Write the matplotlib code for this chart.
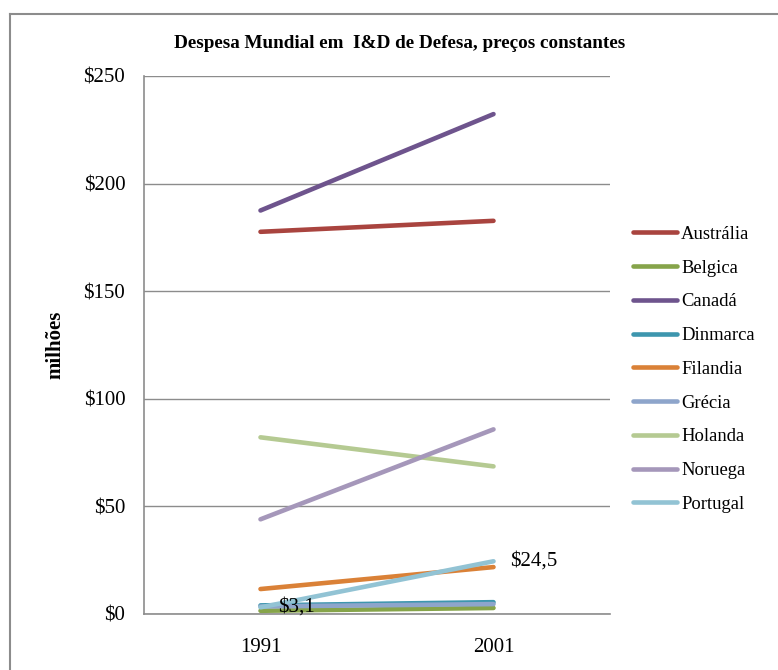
import matplotlib
matplotlib.use("Agg")
import matplotlib.pyplot as plt
from matplotlib.lines import Line2D

plt.rcParams['font.family'] = ['Liberation Serif', 'DejaVu Serif']

# spending in millions, constant prices
years = ['1991', '2001']
paises = ['Austrália', 'Belgica', 'Canadá', 'Dinmarca', 'Filandia',
          'Grécia', 'Holanda', 'Noruega', 'Portugal']
australia = [177.6, 182.7]
belgica = [1.5, 2.8]
canada = [187.5, 232.3]
dinmarca = [4.0, 5.5]
filandia = [11.6, 21.8]
grecia = [3.5, 4.6]
holanda = [82.1, 68.6]
noruega = [44.0, 85.8]
portugal = [3.1, 24.5]
cores = ['#A9443F', '#86A44A', '#6E548D', '#3D96AE', '#DA8137',
         '#8EA5CB', '#B5CA92', '#A597BA', '#92C3D4']

series = [australia, belgica, canada, dinmarca, filandia,
          grecia, holanda, noruega, portugal]

fig = plt.figure(figsize=(7.78, 6.70), dpi=100)
ax = fig.add_axes([144/778, 1 - 614/670, (610 - 144)/778, (614 - 76)/670])

x = list(range(len(years)))
for nome, vals, cor in zip(paises, series, cores):
    ax.plot(x, vals, color=cor, lw=3.3, solid_capstyle='round', label=nome)

# data labels for Portugal
ax.annotate('$' + f'{portugal[0]:.1f}'.replace('.', ','), (x[0], portugal[0]),
            xytext=(13, 0), textcoords='offset points', va='center', ha='left', fontsize=15)
ax.annotate('$' + f'{portugal[1]:.1f}'.replace('.', ','), (x[1], portugal[1]),
            xytext=(12, 0), textcoords='offset points', va='center', ha='left', fontsize=15)

ax.set_xlim(-0.5, 1.5)
ax.set_ylim(0, 250)
ax.set_yticks(range(0, 251, 50))
ax.set_yticklabels(['$' + str(v) for v in range(0, 251, 50)], fontsize=15)
ax.set_xticks(x)
ax.set_xticklabels(years, fontsize=15)
ax.tick_params(axis='both', length=0)
ax.tick_params(axis='y', pad=13.5)
ax.tick_params(axis='x', pad=17)
ax.grid(axis='y', color='#8c8c8c', lw=1)
ax.set_axisbelow(True)
for s in ['top', 'right']:
    ax.spines[s].set_visible(False)
for s in ['left', 'bottom']:
    ax.spines[s].set_color('#8c8c8c')
    ax.spines[s].set_linewidth(1.2)

ax.set_ylabel('milhões', fontsize=15, fontweight='bold', labelpad=13)

fig.text(400/778, 1 - 43/670, 'Despesa Mundial em  I&D de Defesa, preços constantes',
         ha='center', va='center', fontsize=13.8, fontweight='bold')

leg = fig.legend(loc='upper left', bbox_to_anchor=(616/778, 1 - 209/670), frameon=False,
                 fontsize=13.4, handlelength=2.4, handletextpad=0.2, labelspacing=0.9)
for h in leg.get_lines():
    h.set_linewidth(3.3)

# outer chart border
fig.add_artist(Line2D([9.5/778, 9.5/778], [0, 1 - 14/670], color='#8c8c8c', lw=1.5,
                      transform=fig.transFigure))
fig.add_artist(Line2D([9.5/778, 1], [1 - 14/670, 1 - 14/670], color='#8c8c8c', lw=1.5,
                      transform=fig.transFigure))

fig.savefig('out.png', dpi=100)
